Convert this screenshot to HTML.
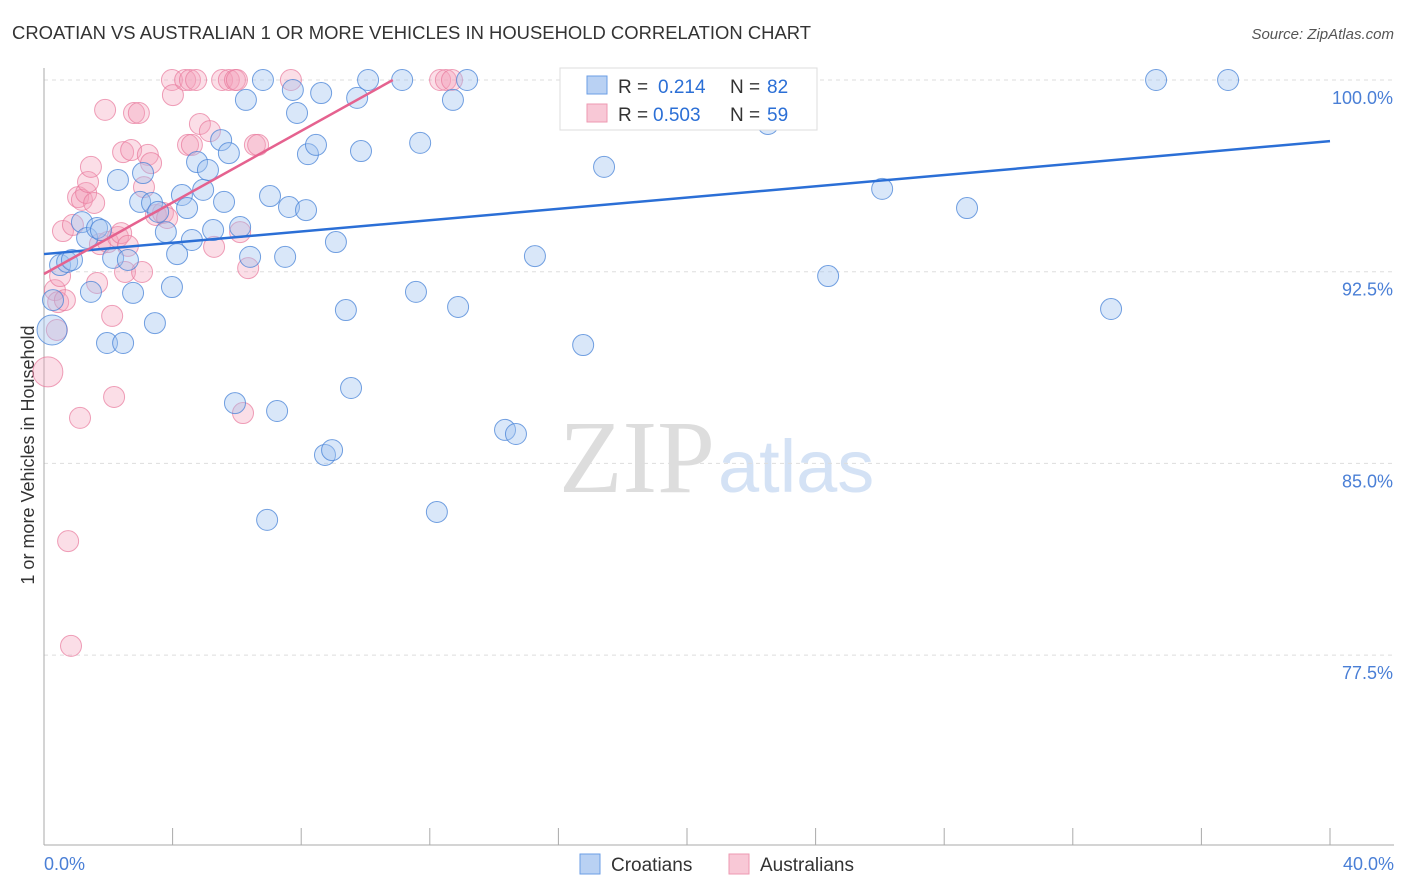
<!DOCTYPE html>
<html><head><meta charset="utf-8"><style>
body{margin:0;background:#fff;font-family:"Liberation Sans",sans-serif}
svg{display:block}
</style></head><body>
<svg id="c" width="1406" height="892" xmlns="http://www.w3.org/2000/svg">
<text x="12" y="39" font-size="18" fill="#333" textLength="799" lengthAdjust="spacingAndGlyphs">CROATIAN VS AUSTRALIAN 1 OR MORE VEHICLES IN HOUSEHOLD CORRELATION CHART</text>
<text x="1394" y="39" font-size="15" fill="#555" text-anchor="end" font-style="italic">Source: ZipAtlas.com</text>
<text x="715" y="492" font-size="104" fill="#ddd" text-anchor="end" font-family="Liberation Serif">ZIP</text>
<text x="718" y="492" font-size="74" fill="#d4e2f5">atlas</text>
<g id="grid"></g>
<line x1="44" y1="68" x2="44" y2="845" stroke="#aaa"/>
<line x1="44" y1="845" x2="1394" y2="845" stroke="#aaa"/>
<g id="ticks"></g>
<text x="34" y="455" font-size="18" fill="#333" text-anchor="middle" transform="rotate(-90 34 455)">1 or more Vehicles in Household</text>
<text x="44" y="870" font-size="18" fill="#4a7fd6">0.0%</text>
<text x="1394" y="870" font-size="18" fill="#4a7fd6" text-anchor="end">40.0%</text>
<g id="pts"></g>
<g id="lines"></g>
<g>
<rect x="560" y="68" width="257" height="62" fill="#fff" stroke="#ddd"/>
<rect x="587" y="76" width="20" height="18" fill="#b9d1f3" stroke="#6b9ee6"/>
<rect x="587" y="104" width="20" height="18" fill="#f8c8d6" stroke="#ee99b2"/>
<text x="618" y="93" font-size="19" fill="#333">R =</text>
<text x="658" y="93" font-size="19" fill="#2b6fd6">0.214</text>
<text x="730" y="93" font-size="19" fill="#333">N =</text>
<text x="767" y="93" font-size="19" fill="#2b6fd6">82</text>
<text x="618" y="121" font-size="19" fill="#333">R =</text>
<text x="653" y="121" font-size="19" fill="#2b6fd6">0.503</text>
<text x="730" y="121" font-size="19" fill="#333">N =</text>
<text x="767" y="121" font-size="19" fill="#2b6fd6">59</text>
</g>
<g>
<rect x="580" y="854" width="20" height="20" fill="#b9d1f3" stroke="#6b9ee6"/>
<text x="611" y="871" font-size="19" fill="#333">Croatians</text>
<rect x="729" y="854" width="20" height="20" fill="#f8c8d6" stroke="#ee99b2"/>
<text x="760" y="871" font-size="19" fill="#333">Australians</text>
</g>
</svg>
<script>
const yTicks=[100,92.5,85,77.5];
const yTickLabels=["100.0%","92.5%","85.0%","77.5%"];
const blueX=[.25,.28,.5,.72,.87,1.18,1.34,1.46,1.65,1.77,1.96,2.15,2.3,2.46,2.61,2.77,2.99,3.08,3.36,3.45,3.55,3.79,3.98,4.14,4.29,4.45,4.6,4.76,4.95,5.1,5.26,5.51,5.6,5.75,5.94,6.1,6.28,6.41,6.81,6.94,7.03,7.25,7.5,7.62,7.74,7.87,8.15,8.21,8.46,8.62,8.74,8.96,9.08,9.39,9.55,9.74,9.86,10.08,11.14,11.57,11.7,12.22,12.72,12.88,13.16,14.34,14.68,15.27,16.77,17.42,18.13,22.27,22.52,23.27,24.39,26.07,28.71,33.19,34.59,36.83];
const blueY=[90.22,91.39,92.76,92.88,92.96,94.44,93.82,91.71,94.21,94.13,89.71,93.04,96.09,89.71,92.96,91.67,95.23,96.36,95.19,90.49,94.84,94.05,91.9,93.19,95.5,94.99,93.74,96.79,95.7,96.48,94.13,97.65,95.23,97.14,87.36,94.25,99.22,93.08,100,82.79,95.46,87.05,93.08,95.03,99.61,98.71,94.91,97.1,97.46,99.49,85.33,85.52,93.66,91,87.95,99.3,97.22,100,100,91.71,97.54,83.1,99.22,91.12,100,86.31,86.15,93.11,89.63,96.6,100,100,98.28,100,92.33,95.74,94.99,91.04,100,100];
const pinkX=[.12,.34,.4,.44,.5,.59,.65,.75,.84,.9,1.06,1.12,1.18,1.31,1.37,1.46,1.56,1.65,1.74,1.9,1.99,2.12,2.18,2.3,2.4,2.46,2.52,2.61,2.71,2.8,2.95,3.05,3.11,3.23,3.33,3.48,3.7,3.83,3.98,4.01,4.39,4.54,4.73,4.85,5.16,4.48,4.6,5.29,5.54,5.75,5.94,6,6.1,6.19,6.35,6.56,6.66,7.68,12.32,12.5,12.69,18.13];
const pinkY=[88.58,91.78,90.22,91.31,92.33,94.09,91.39,81.96,77.86,94.33,95.42,86.78,95.31,95.58,96.01,96.6,95.19,92.06,93.58,98.83,93.66,90.77,87.6,93.86,94.01,97.18,92.49,93.51,97.26,98.71,98.71,92.49,95.81,97.07,96.75,94.72,94.8,94.6,100,99.41,100,100,100,98.28,98,97.46,97.46,93.47,100,100,100,100,94.05,86.97,92.64,97.46,97.46,100,100,100,100,100];
const blueTrend=[[0,93.19],[40,97.61]];
const pinkTrend=[[0,92.41],[10.85,100]];
const NS="http://www.w3.org/2000/svg";
const sx=v=>44+v*1286/40, sy=v=>80+(100-v)*25.56;
function mk(t,a,p){const e=document.createElementNS(NS,t);for(const k in a)e.setAttribute(k,a[k]);p.appendChild(e);return e;}
const grid=document.getElementById('grid');
yTicks.forEach((v,i)=>{
 const l=mk('line',{x1:44,x2:1394,y1:sy(v),y2:sy(v),stroke:'#ddd','stroke-dasharray':'4,4'},grid);
 
 
 const t=mk('text',{x:1393,y:sy(v)+24,'font-size':18,fill:'#4a7fd6','text-anchor':'end'},grid);
 t.textContent=yTickLabels[i];
 
 
});
const tk=document.getElementById('ticks');
for(let i=0;i<=10;i++){const l=mk('line',{x1:sx(i*4),x2:sx(i*4),y1:828,y2:845,stroke:'#aaa'},tk);
 
 }
const pts=document.getElementById('pts');
pinkX.forEach((x,i)=>{const c=mk('circle',{cx:sx(x),cy:sy(pinkY[i]),r:i===0?15:10.5,fill:'rgba(244,160,185,0.35)',stroke:'rgba(232,120,155,0.7)','stroke-width':1},pts);
 
 });
blueX.forEach((x,i)=>{const c=mk('circle',{cx:sx(x),cy:sy(blueY[i]),r:i===0?15:10.5,fill:'rgba(160,196,240,0.4)',stroke:'rgba(70,130,215,0.75)','stroke-width':1},pts);
 
 });
const ln=document.getElementById('lines');
const b=mk('line',{x1:sx(blueTrend[0][0]),y1:sy(blueTrend[0][1]),x2:sx(blueTrend[1][0]),y2:sy(blueTrend[1][1]),stroke:'#2b6fd6','stroke-width':2.5},ln);


const p=mk('line',{x1:sx(pinkTrend[0][0]),y1:sy(pinkTrend[0][1]),x2:sx(pinkTrend[1][0]),y2:sy(pinkTrend[1][1]),stroke:'#e5628f','stroke-width':2.5},ln);


</script>
</body></html>
